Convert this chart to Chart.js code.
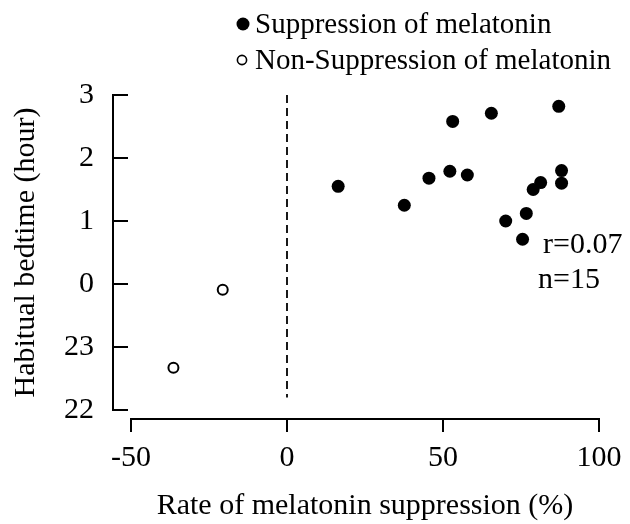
<!DOCTYPE html>
<html>
<head>
<meta charset="utf-8">
<style>
  html, body { margin: 0; padding: 0; background: #fff; }
  #wrap { width: 630px; height: 524px; }
</style>
<script src="https://cdn.jsdelivr.net/npm/chart.js@4/dist/chart.umd.min.js"></script>
</head>
<body>
<div id="wrap"><canvas id="c" width="630" height="524"></canvas></div>
<script>
// ---- Data ----
// Rate of melatonin suppression (%)
const suppX = [16.4, 37.6, 45.5, 52.2, 53.1, 57.8, 65.5, 70.1, 75.5, 76.7, 78.9, 81.3, 87.1, 88.0, 88.0];
// Habitual bedtime, hours relative to midnight (0 = 0:00, 1 = 1:00, -1 = 23:00)
const suppY = [1.55, 1.25, 1.68, 1.79, 2.58, 1.73, 2.71, 1.00, 0.71, 1.12, 1.50, 1.61, 2.82, 1.80, 1.60];
const nonSuppX = [-20.6, -36.4];
const nonSuppY = [-0.09, -1.33];
// Vertical reference line at 0 % suppression
const refLineX = [0, 0];
const refLineY = [3, -1.8];
// Axis ticks
const xTicks = [-50, 0, 50, 100];
const yTicks = [-2, -1, 0, 1, 2, 3];
const yTickLabels = ['22', '23', '0', '1', '2', '3'];
const seriesNames = ['Suppression of melatonin', 'Non-Suppression of melatonin'];
const statsText = ['r=0.07', 'n=15'];

const FONT = '"Liberation Serif", "Times New Roman", serif';

const toPts = (xs, ys) => xs.map((x, i) => ({ x, y: ys[i] }));

const axesPlugin = {
  id: 'customAxes',
  afterDraw(chart) {
    const { ctx, chartArea, scales } = chart;
    const xs = scales.x, ys = scales.y;
    ctx.save();
    ctx.strokeStyle = '#000';
    ctx.lineWidth = 2;
    ctx.lineCap = 'butt';
    // Y axis (offset to the left), ticks pointing inward
    const ax = chartArea.left - 18;
    ctx.beginPath();
    ctx.moveTo(ax, ys.getPixelForValue(yTicks[yTicks.length - 1]) - 1);
    ctx.lineTo(ax, ys.getPixelForValue(yTicks[0]) + 1);
    yTicks.forEach(v => {
      const p = ys.getPixelForValue(v);
      ctx.moveTo(ax, p);
      ctx.lineTo(ax + 15, p);
    });
    ctx.stroke();
    // X axis (offset below), ticks pointing down
    const ay = chartArea.bottom + 9;
    ctx.beginPath();
    ctx.moveTo(xs.getPixelForValue(xTicks[0]) - 1, ay);
    ctx.lineTo(xs.getPixelForValue(xTicks[xTicks.length - 1]) + 1, ay);
    xTicks.forEach(v => {
      const p = xs.getPixelForValue(v);
      ctx.moveTo(p, ay);
      ctx.lineTo(p, ay + 13);
    });
    ctx.stroke();

    // Legend
    ctx.fillStyle = '#000';
    ctx.font = '29px ' + FONT;
    ctx.textBaseline = 'middle';
    ctx.textAlign = 'left';
    ctx.beginPath();
    ctx.arc(243, 24, 6.5, 0, Math.PI * 2);
    ctx.fill();
    ctx.fillText(seriesNames[0], 255, 25);
    ctx.beginPath();
    ctx.lineWidth = 1.6;
    ctx.arc(242, 60, 4.6, 0, Math.PI * 2);
    ctx.stroke();
    ctx.fillText(seriesNames[1], 255, 61);

    // Stats
    ctx.font = '30px ' + FONT;
    ctx.fillText(statsText[0], 543, 245);
    ctx.fillText(statsText[1], 538, 280);
    ctx.restore();
  }
};

new Chart(document.getElementById('c'), {
  type: 'scatter',
  data: {
    datasets: [
      {
        label: 'ref',
        type: 'line',
        data: toPts(refLineX, refLineY),
        borderColor: '#000',
        borderWidth: 1.8,
        borderDash: [8, 5],
        pointRadius: 0,
        fill: false
      },
      {
        label: seriesNames[0],
        data: toPts(suppX, suppY),
        backgroundColor: '#000',
        borderColor: '#000',
        borderWidth: 0,
        pointRadius: 6.5
      },
      {
        label: seriesNames[1],
        data: toPts(nonSuppX, nonSuppY),
        backgroundColor: '#fff',
        borderColor: '#000',
        borderWidth: 2,
        pointRadius: 5
      }
    ]
  },
  options: {
    responsive: false,
    animation: false,
    layout: { padding: { top: 95, right: 31, left: 0, bottom: 0 } },
    plugins: { legend: { display: false }, tooltip: { enabled: false } },
    scales: {
      x: {
        type: 'linear',
        min: -50, max: 100,
        afterBuildTicks(scale) { scale.ticks = xTicks.map(v => ({ value: v })); },
        afterFit(scale) { scale.height = 114; scale.paddingLeft = 0; scale.paddingRight = 0; },
        grid: { display: false, drawTicks: false },
        border: { display: false },
        ticks: {
          padding: 30,
          color: '#000',
          font: { family: FONT, size: 30 },
          maxRotation: 0,
          callback: v => String(v)
        },
        title: {
          display: true,
          text: 'Rate of melatonin suppression (%)',
          color: '#000',
          font: { family: FONT, size: 30 },
          padding: { top: 0, bottom: 0 }
        }
      },
      y: {
        type: 'linear',
        min: -2, max: 3,
        afterBuildTicks(scale) { scale.ticks = yTicks.map(v => ({ value: v })); },
        afterFit(scale) { scale.width = 131; scale.paddingTop = 0; scale.paddingBottom = 0; },
        grid: { display: false, drawTicks: false },
        border: { display: false },
        ticks: {
          padding: 37,
          color: '#000',
          font: { family: FONT, size: 30 },
          callback: v => yTickLabels[yTicks.indexOf(v)]
        },
        title: {
          display: true,
          text: 'Habitual bedtime (hour)',
          color: '#000',
          font: { family: FONT, size: 30 },
          padding: { top: 8, bottom: 0 }
        }
      }
    }
  },
  plugins: [axesPlugin]
});
</script>
</body>
</html>
